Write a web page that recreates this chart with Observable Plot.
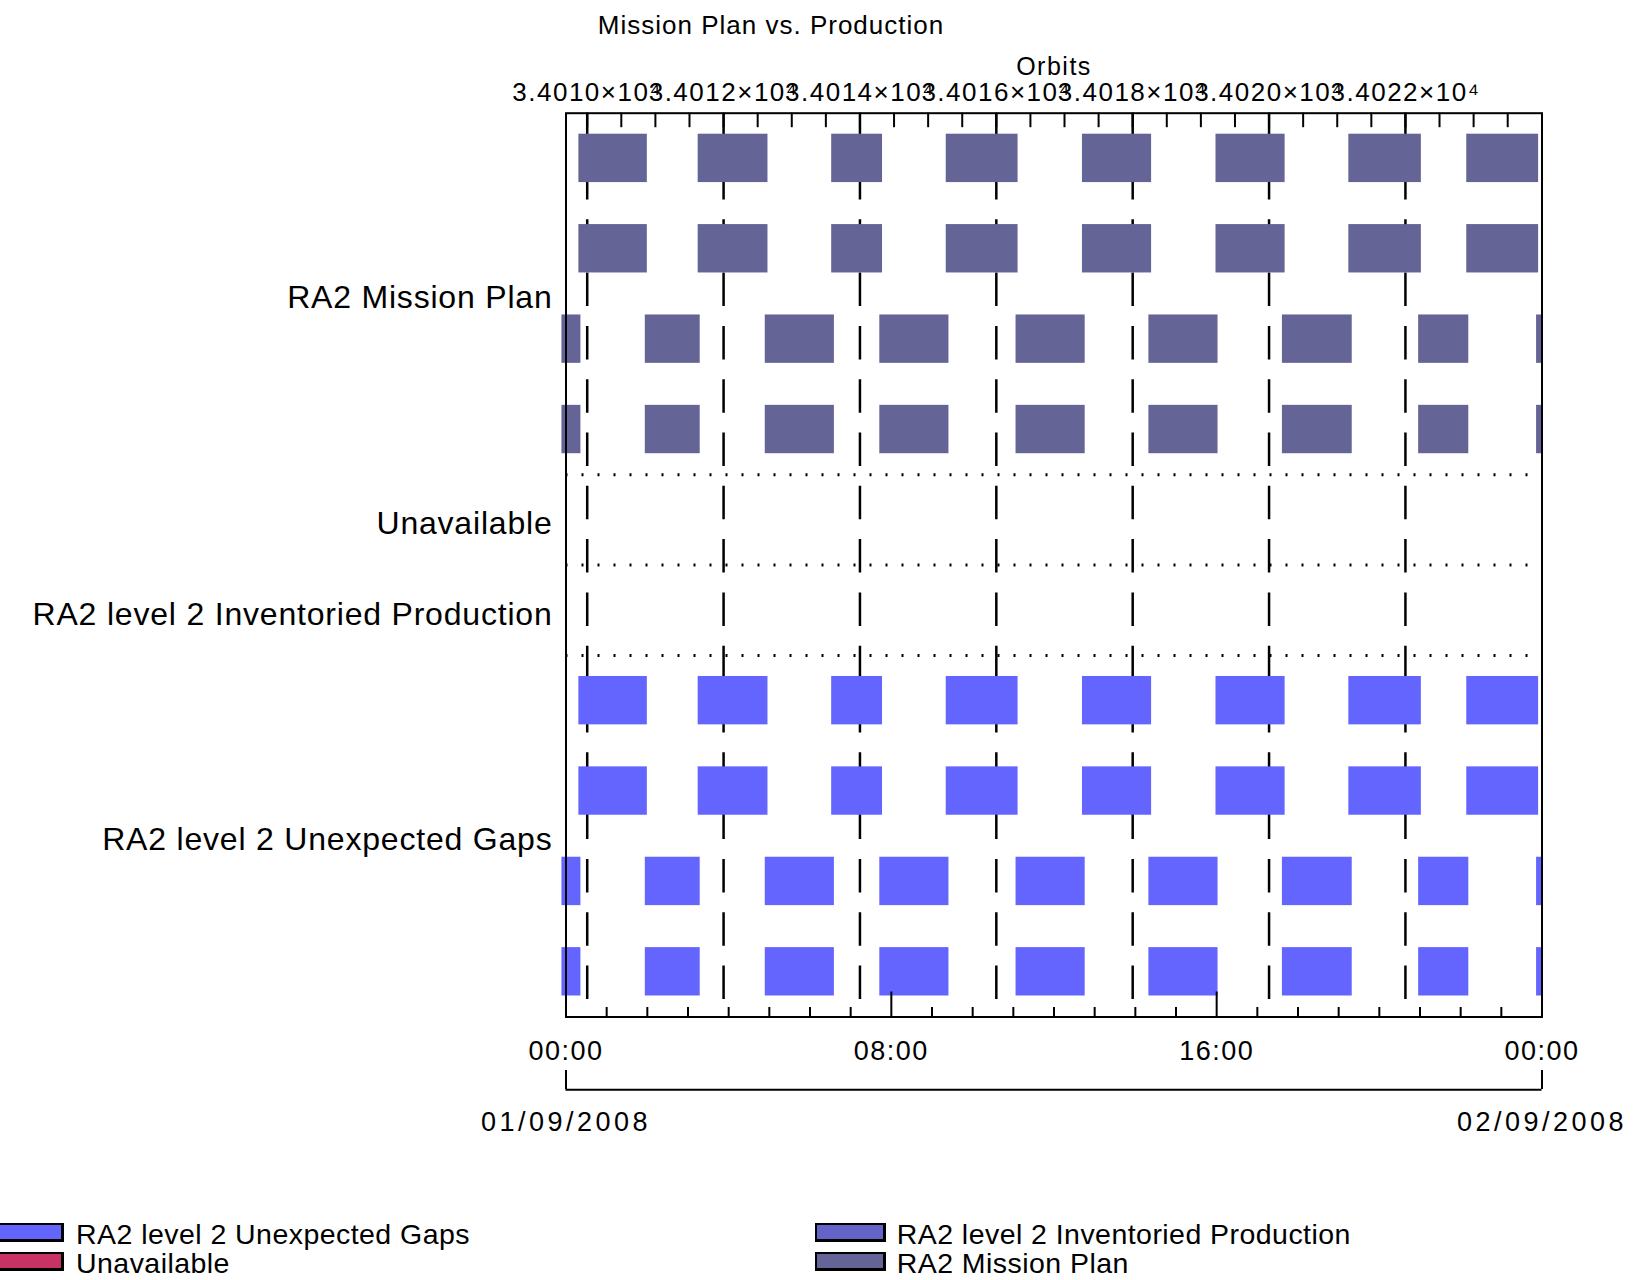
<!DOCTYPE html>
<html>
<head>
<meta charset="utf-8">
<script src="https://cdn.jsdelivr.net/npm/d3@7"></script>
<script src="https://cdn.jsdelivr.net/npm/@observablehq/plot@0.6"></script>
<style>
  body { margin: 0; background: #fff; font-family: "Liberation Sans", Arial, sans-serif; color: #000; }
  #page { position: relative; width: 1633px; height: 1280px; overflow: hidden; background: #fff; }
  #title { position: absolute; left: 771px; top: 12px; transform: translateX(-50%); font-size: 26px; line-height: 26px; letter-spacing: 1px; white-space: nowrap; }
  #chart { position: absolute; left: 0; top: 45px; }
  #legend { position: absolute; left: 0; top: 1205px; width: 1633px; height: 75px; }
  .sw { position: absolute; width: 66px; height: 14px; border: 2px solid #000; border-right-width: 3px; border-bottom-width: 3px; }
  .lt { position: absolute; font-size: 28.5px; line-height: 29px; letter-spacing: 0.45px; white-space: nowrap; }
</style>
</head>
<body>
<div id="page">
  <div id="title">Mission Plan vs. Production</div>
  <div id="chart"></div>
  <div id="legend"></div>
</div>
<script>
// ---------------- DATA ----------------
const chartTitle = "Mission Plan vs. Production";
const dayStart = "2008-09-01T00:00Z";
const dayEnd = "2008-09-02T00:00Z";

// Y categories (top to bottom) and number of sub-rows in each
const groups = ["RA2 Mission Plan", "Unavailable", "RA2 level 2 Inventoried Production", "RA2 level 2 Unexpected Gaps"];
const groupRows = [4, 1, 1, 4];
// which pass set is drawn in each sub-row (null = empty)
const rowPassSet = ["A", "A", "B", "B", null, null, "A", "A", "B", "B"];

// Pass set A (sub-rows 1 and 2)
const passAStart = ["2008-09-01T00:19Z", "2008-09-01T03:15Z", "2008-09-01T06:32Z", "2008-09-01T09:21Z",
                    "2008-09-01T12:42Z", "2008-09-01T15:59Z", "2008-09-01T19:15Z", "2008-09-01T22:09Z"];
const passAEnd   = ["2008-09-01T02:00Z", "2008-09-01T04:58Z", "2008-09-01T07:47Z", "2008-09-01T11:07Z",
                    "2008-09-01T14:24Z", "2008-09-01T17:41Z", "2008-09-01T21:02Z", "2008-09-01T23:55Z"];
// Pass set B (sub-rows 3 and 4)
const passBStart = ["2008-08-31T23:54Z", "2008-09-01T01:57Z", "2008-09-01T04:54Z", "2008-09-01T07:43Z",
                    "2008-09-01T11:04Z", "2008-09-01T14:20Z", "2008-09-01T17:37Z", "2008-09-01T20:58Z",
                    "2008-09-01T23:52Z"];
const passBEnd   = ["2008-09-01T00:22Z", "2008-09-01T03:18Z", "2008-09-01T06:36Z", "2008-09-01T09:25Z",
                    "2008-09-01T12:46Z", "2008-09-01T16:02Z", "2008-09-01T19:20Z", "2008-09-01T22:12Z",
                    "2008-09-02T00:00Z"];

// Legend series and colours
const seriesNames  = ["RA2 level 2 Unexpected Gaps", "Unavailable", "RA2 level 2 Inventoried Production", "RA2 Mission Plan"];
const seriesColors = ["#6464ff", "#c83264", "#6464c8", "#646496"];

// Orbit (top) axis
const orbitRefNumber = 34010;
const orbitRefTime = "2008-09-01T00:31:18Z";
const orbitPeriodMinutes = 100.6;
const orbitMajor = [34010, 34012, 34014, 34016, 34018, 34020, 34022];
const orbitTickLabels = ["3.4010×10⁴", "3.4012×10⁴", "3.4014×10⁴", "3.4016×10⁴", "3.4018×10⁴", "3.4020×10⁴", "3.4022×10⁴"];
const orbitMinor = [34010, 34010.5, 34011, 34011.5, 34012, 34012.5, 34013, 34013.5, 34014, 34014.5, 34015, 34015.5,
                    34016, 34016.5, 34017, 34017.5, 34018, 34018.5, 34019, 34019.5, 34020, 34020.5, 34021, 34021.5,
                    34022, 34022.5, 34023, 34023.5];
const orbitAxisTitle = "Orbits";

// Time (bottom) axis
const hourTicks = [1,2,3,4,5,6,7,9,10,11,12,13,14,15,17,18,19,20,21,22,23];
const majorHourTicks = [8, 16];
const timeTickHours = [0, 8, 16, 24];
const timeTickLabels = ["00:00", "08:00", "16:00", "00:00"];
const dateTickHours = [0, 24];
const dateTickLabels = ["01/09/2008", "02/09/2008"];

// ---------------- BUILD ----------------
const t0 = new Date(dayStart), t1 = new Date(dayEnd);
const hourDate = h => new Date(+t0 + h * 3600e3);
const orbitDate = o => new Date(+new Date(orbitRefTime) + (o - orbitRefNumber) * orbitPeriodMinutes * 60e3);

const rowCount = groupRows.reduce((a, b) => a + b, 0);
const rowSeries = [];
const groupCenters = [];
let acc = 0;
groups.forEach((g, gi) => {
  groupCenters.push(acc + groupRows[gi] / 2);
  for (let k = 0; k < groupRows[gi]; k++) rowSeries.push(g);
  acc += groupRows[gi];
});
const separators = [];
acc = 0;
groupRows.forEach((n, i) => { acc += n; if (i < groupRows.length - 1) separators.push(acc); });

const passSets = {
  A: passAStart.map((s, i) => ({start: new Date(s), end: new Date(passAEnd[i])})),
  B: passBStart.map((s, i) => ({start: new Date(s), end: new Date(passBEnd[i])}))
};
const bars = [];
rowPassSet.forEach((set, row) => {
  if (!set) return;
  passSets[set].forEach(p => bars.push({row, start: p.start, end: p.end, series: rowSeries[row]}));
});

const orbitMajorDates = orbitMajor.map(orbitDate);
const orbitLabelMap = new Map(orbitMajorDates.map((d, i) => [+d, orbitTickLabels[i]]));
const timeLabelMap = new Map(timeTickHours.map((h, i) => [+hourDate(h), timeTickLabels[i]]));
const dateLabelMap = new Map(dateTickHours.map((h, i) => [+hourDate(h), dateTickLabels[i]]));
const groupLabelMap = new Map(groupCenters.map((c, i) => [c, groups[i]]));

const W = 1633, H = 1115;
const mTop = 67.7, mBottom = 143.5, mLeft = 565.5, mRight = 91.5;
const innerH = H - mTop - mBottom;

const chart = Plot.plot({
  width: W, height: H,
  marginTop: mTop, marginBottom: mBottom, marginLeft: mLeft, marginRight: mRight,
  style: {fontFamily: "Liberation Sans, Arial, sans-serif", fontSize: "27px", color: "#000", background: "#fff", overflow: "visible"},
  x: {type: "utc", domain: [t0, t1], label: null},
  y: {domain: [rowCount, 0], label: null},
  color: {domain: seriesNames, range: seriesColors},
  marks: [
    Plot.ruleY(separators, {stroke: "#000", strokeWidth: 3, strokeDasharray: "2,14"}),
    Plot.ruleX(orbitMajorDates, {stroke: "#000", strokeWidth: 2.5, strokeDasharray: "33.5,19.8"}),
    Plot.rect(bars, {x1: "start", x2: "end", y1: "row", y2: d => d.row + 1, fill: "series", insetTop: 21, insetBottom: 21}),
    Plot.ruleX(orbitMinor.map(orbitDate), {stroke: "#000", strokeWidth: 2, insetBottom: innerH - 14.5}),
    Plot.ruleX(hourTicks.map(hourDate), {stroke: "#000", strokeWidth: 2, insetTop: innerH - 9.5}),
    Plot.ruleX(majorHourTicks.map(hourDate), {stroke: "#000", strokeWidth: 2, insetTop: innerH - 25}),
    Plot.frame({stroke: "#000", strokeWidth: 2}),
    Plot.axisX({anchor: "top", ticks: orbitMajorDates, tickFormat: d => orbitLabelMap.get(+d), tickSize: 0, tickPadding: 12.7, fontSize: 26}),
    Plot.text([orbitAxisTitle], {frameAnchor: "top", dy: -38, lineAnchor: "bottom", fontSize: 25}),
    Plot.axisX({anchor: "bottom", ticks: timeTickHours.map(hourDate), tickFormat: d => timeLabelMap.get(+d), tickSize: 0, tickPadding: 23.5, fontSize: 27}),
    Plot.axisX({anchor: "bottom", ticks: dateTickHours.map(hourDate), tickFormat: d => dateLabelMap.get(+d), tickSize: 19, tickPadding: 22.7, dy: 53.5, fontSize: 27, strokeWidth: 2}),
    Plot.ruleY([rowCount], {dy: 72.8, stroke: "#000", strokeWidth: 2}),
    Plot.axisY({ticks: groupCenters, tickFormat: d => groupLabelMap.get(d), tickSize: 0, tickPadding: 13.5, fontSize: 32, dy: 4})
  ]
});
document.getElementById("chart").appendChild(chart);

// letter spacing to mimic the wider original lettering
const spacingFor = txt => {
  if (dateTickLabels.includes(txt)) return "3.5px";
  if (groups.includes(txt)) return "0.8px";
  if (orbitTickLabels.includes(txt) || timeTickLabels.includes(txt) || txt === orbitAxisTitle) return "1.5px";
  return null;
};
d3.select(chart).selectAll("text").each(function() {
  const s = spacingFor(this.textContent);
  if (s) this.style.letterSpacing = s;
});

// ---------------- LEGEND ----------------
const legendPos = [
  {sx: -7, sy: 18, tx: 76, ty: 15},
  {sx: -7, sy: 46.7, tx: 76, ty: 44},
  {sx: 815, sy: 18, tx: 896.7, ty: 15},
  {sx: 815, sy: 46.7, tx: 896.7, ty: 44}
];
const legend = document.getElementById("legend");
seriesNames.forEach((name, i) => {
  const p = legendPos[i];
  const sw = document.createElement("div");
  sw.className = "sw";
  sw.style.left = p.sx + "px"; sw.style.top = p.sy + "px"; sw.style.background = seriesColors[i];
  legend.appendChild(sw);
  const t = document.createElement("div");
  t.className = "lt";
  t.style.left = p.tx + "px"; t.style.top = p.ty + "px";
  t.textContent = name;
  legend.appendChild(t);
});
</script>
</body>
</html>
